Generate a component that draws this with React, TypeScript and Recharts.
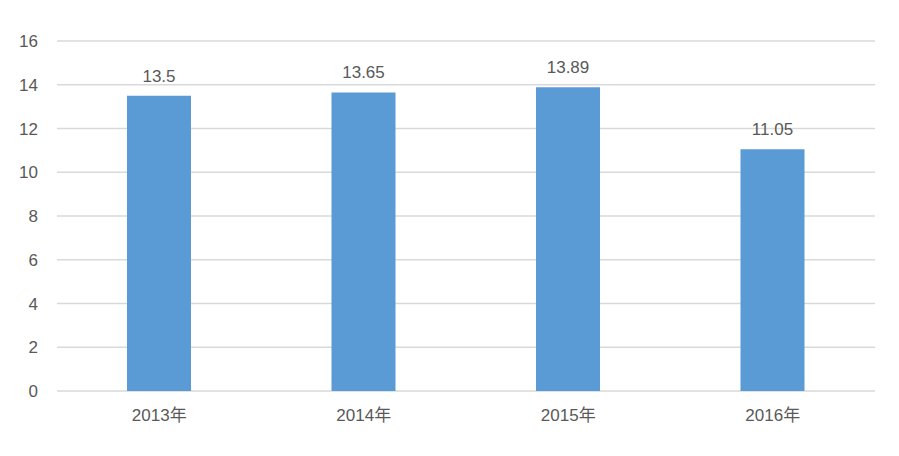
import { Bar, BarChart, CartesianGrid, LabelList, XAxis, YAxis } from "recharts";

const years = ["2013年", "2014年", "2015年", "2016年"];
const values = [13.5, 13.65, 13.89, 11.05];
const yTicks = [0, 2, 4, 6, 8, 10, 12, 14, 16];

const FONT = "'Liberation Sans', 'Noto Sans CJK SC', sans-serif";
const TEXT = "#595959";

export default function App() {
  const data = years.map((year, i) => ({ year, value: values[i] }));

  return (
    <div style={{ position: "absolute", left: 0, top: 0, width: 899, height: 456, background: "#fff" }}>
      <BarChart
        width={899}
        height={456}
        data={data}
        margin={{ top: 41, right: 24, left: 0, bottom: 0 }}
        barCategoryGap={0}
      >
        <CartesianGrid horizontal vertical={false} stroke="#d9d9d9" strokeWidth={1.3} />
        <XAxis
          dataKey="year"
          axisLine={false}
          tickLine={false}
          tickSize={0}
          tickMargin={18}
          height={65}
          tick={{ fontSize: 17, fill: TEXT, fontFamily: FONT }}
        />
        <YAxis
          domain={[0, 16]}
          ticks={yTicks}
          axisLine={false}
          tickLine={false}
          tickSize={0}
          tickMargin={19}
          width={57}
          tick={{ fontSize: 17, fill: TEXT, fontFamily: FONT }}
        />
        <Bar dataKey="value" fill="#5b9bd5" barSize={64} isAnimationActive={false}>
          <LabelList
            dataKey="value"
            position="top"
            offset={14}
            style={{ fontSize: 17, fill: TEXT, fontFamily: FONT }}
          />
        </Bar>
      </BarChart>
    </div>
  );
}
